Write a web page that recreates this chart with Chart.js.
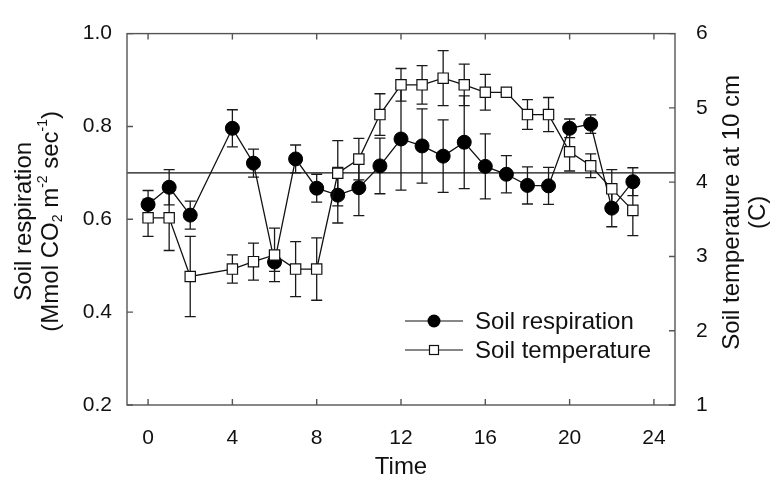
<!DOCTYPE html>
<html>
<head>
<meta charset="utf-8">
<script src="https://cdn.jsdelivr.net/npm/chart.js@4.4.1/dist/chart.umd.min.js"></script>
<style>
  html, body { margin: 0; padding: 0; background: #ffffff; }
  canvas { display: block; }
</style>
</head>
<body>
<canvas id="chart" width="770" height="482"></canvas>
<script>
// Hourly measurements (no reading at hour 3)
const hours = [0, 1, 2, 4, 5, 6, 7, 8, 9, 10, 11, 12, 13, 14, 15, 16, 17, 18, 19, 20, 21, 22, 23];
const respiration    = [0.632, 0.669, 0.609, 0.796, 0.721, 0.508, 0.730, 0.667, 0.652, 0.668, 0.715, 0.773, 0.758, 0.736, 0.766, 0.714, 0.697, 0.673, 0.672, 0.796, 0.805, 0.624, 0.681];
const respirationErr = [0.030, 0.038, 0.030, 0.040, 0.030, 0.020, 0.030, 0.030, 0.060, 0.060, 0.060, 0.110, 0.080, 0.078, 0.100, 0.070, 0.040, 0.040, 0.040, 0.020, 0.020, 0.040, 0.030];
const temperature    = [3.52, 3.52, 2.73, 2.83, 2.93, 3.02, 2.83, 2.83, 4.12, 4.31, 4.91, 5.31, 5.31, 5.40, 5.31, 5.21, 5.21, 4.91, 4.91, 4.41, 4.22, 3.91, 3.62];
const temperatureErr = [0.25, 0.44, 0.54, 0.19, 0.25, 0.36, 0.37, 0.42, 0.44, 0.28, 0.28, 0.22, 0.26, 0.37, 0.28, 0.24, 0.03, 0.20, 0.23, 0.26, 0.16, 0.26, 0.34];

const timeTicks = [0, 4, 8, 12, 16, 20, 24];
const respTicks = [0.2, 0.4, 0.6, 0.8, 1.0];
const tempTicks = [1, 2, 3, 4, 5, 6];
const referenceLevel = 0.7;

const seriesNames = ['Soil respiration', 'Soil temperature'];

const FONT = '"Liberation Sans", Arial, Helvetica, sans-serif';
const TICK_SIZE = 21;
const TITLE_SIZE = 24;
const FRAME_COLOR = '#555555';
const TICK_LEN = 6;

const respPoints = hours.map((h, i) => ({ x: h, y: respiration[i] }));
const tempPoints = hours.map((h, i) => ({ x: h, y: temperature[i] }));

// Frame, inward tick marks, reference line, error bars, titles and legend
const decorations = {
  id: 'decorations',
  beforeDatasetsDraw(chart) {
    const { ctx, chartArea: a, scales } = chart;
    const xs = scales.x, yl = scales.yResp, yr = scales.yTemp;
    ctx.save();
    // horizontal reference line
    const yRef = yl.getPixelForValue(referenceLevel);
    ctx.strokeStyle = '#111';
    ctx.lineWidth = 1.3;
    ctx.beginPath();
    ctx.moveTo(a.left, yRef);
    ctx.lineTo(a.right, yRef);
    ctx.stroke();

    // error bars
    const drawBars = (vals, errs, scale) => {
      ctx.strokeStyle = '#1a1a1a';
      ctx.lineWidth = 1.3;
      hours.forEach((h, i) => {
        const x = xs.getPixelForValue(h);
        const y1 = scale.getPixelForValue(vals[i] + errs[i]);
        const y2 = scale.getPixelForValue(vals[i] - errs[i]);
        ctx.beginPath();
        ctx.moveTo(x, y1); ctx.lineTo(x, y2);
        ctx.moveTo(x - 5.5, y1); ctx.lineTo(x + 5.5, y1);
        ctx.moveTo(x - 5.5, y2); ctx.lineTo(x + 5.5, y2);
        ctx.stroke();
      });
    };
    drawBars(respiration, respirationErr, yl);
    drawBars(temperature, temperatureErr, yr);
    ctx.restore();
  },
  afterDraw(chart) {
    const { ctx, chartArea: a, scales } = chart;
    const xs = scales.x, yl = scales.yResp, yr = scales.yTemp;
    ctx.save();
    ctx.strokeStyle = FRAME_COLOR;
    ctx.lineWidth = 1.4;
    ctx.strokeRect(a.left, a.top, a.right - a.left, a.bottom - a.top);
    ctx.beginPath();
    timeTicks.forEach(v => {
      const x = xs.getPixelForValue(v);
      ctx.moveTo(x, a.bottom); ctx.lineTo(x, a.bottom - TICK_LEN);
      ctx.moveTo(x, a.top); ctx.lineTo(x, a.top + TICK_LEN);
    });
    respTicks.forEach(v => {
      const y = yl.getPixelForValue(v);
      ctx.moveTo(a.left, y); ctx.lineTo(a.left + TICK_LEN, y);
    });
    tempTicks.forEach(v => {
      const y = yr.getPixelForValue(v);
      ctx.moveTo(a.right, y); ctx.lineTo(a.right - TICK_LEN, y);
    });
    ctx.stroke();

    // y-axis titles (rotated, reading upward)
    ctx.fillStyle = '#111';
    ctx.textBaseline = 'middle';
    const midY = (a.top + a.bottom) / 2 + 2;
    const small = Math.round(TITLE_SIZE * 0.6);

    // left title
    ctx.save();
    ctx.translate(24, midY);
    ctx.rotate(-Math.PI / 2);
    ctx.font = `${TITLE_SIZE}px ${FONT}`;
    ctx.textAlign = 'center';
    ctx.fillText('Soil respiration', 0, 0);
    // second line with subscript / superscripts
    const parts = [
      { t: '(Mmol CO', k: 'n' }, { t: '2', k: 'sub' }, { t: ' m', k: 'n' },
      { t: '-2', k: 'sup' }, { t: ' sec', k: 'n' }, { t: '-1', k: 'sup' }, { t: ')', k: 'n' }
    ];
    const widthOf = p => {
      ctx.font = (p.k === 'n' ? TITLE_SIZE : small) + 'px ' + FONT;
      return ctx.measureText(p.t).width;
    };
    const total = parts.reduce((s, p) => s + widthOf(p), 0);
    let cx = -total / 2;
    ctx.textAlign = 'left';
    parts.forEach(p => {
      const w = widthOf(p);
      const dy = p.k === 'sub' ? 7 : p.k === 'sup' ? -8 : 0;
      ctx.fillText(p.t, cx, 27 + dy);
      cx += w;
    });
    ctx.restore();

    // right title
    ctx.save();
    ctx.translate(732, midY - 9);
    ctx.rotate(-Math.PI / 2);
    ctx.font = `${TITLE_SIZE}px ${FONT}`;
    ctx.textAlign = 'center';
    ctx.fillText('Soil temperature at 10 cm', 0, 0);
    ctx.fillText('(C)', 0, 26);
    ctx.restore();

    // legend
    const rows = [
      { y: 321, name: seriesNames[0], style: 'circle' },
      { y: 350, name: seriesNames[1], style: 'square' }
    ];
    rows.forEach(r => {
      ctx.strokeStyle = '#111';
      ctx.lineWidth = 1.2;
      ctx.beginPath();
      ctx.moveTo(405, r.y); ctx.lineTo(463, r.y);
      ctx.stroke();
      if (r.style === 'circle') {
        ctx.fillStyle = '#000';
        ctx.beginPath();
        ctx.arc(434, r.y, 6.5, 0, Math.PI * 2);
        ctx.fill();
      } else {
        ctx.fillStyle = '#fff';
        ctx.fillRect(429.5, r.y - 4.5, 9, 9);
        ctx.strokeRect(429.5, r.y - 4.5, 9, 9);
      }
      ctx.fillStyle = '#111';
      ctx.font = `${TITLE_SIZE}px ${FONT}`;
      ctx.textAlign = 'left';
      ctx.textBaseline = 'middle';
      ctx.fillText(r.name, 475, r.y + 1);
    });
    ctx.restore();
  }
};

new Chart(document.getElementById('chart'), {
  type: 'line',
  data: {
    datasets: [
      {
        label: seriesNames[0],
        data: respPoints,
        yAxisID: 'yResp',
        borderColor: '#111',
        borderWidth: 1.3,
        pointStyle: 'circle',
        pointRadius: 7,
        pointBackgroundColor: '#000',
        pointBorderColor: '#000',
        pointBorderWidth: 1,
        tension: 0,
        order: 1
      },
      {
        label: seriesNames[1],
        data: tempPoints,
        yAxisID: 'yTemp',
        borderColor: '#111',
        borderWidth: 1.3,
        pointStyle: 'rect',
        pointRadius: 7.3,
        pointBackgroundColor: '#fff',
        pointBorderColor: '#111',
        pointBorderWidth: 1.2,
        tension: 0,
        order: 0
      }
    ]
  },
  options: {
    responsive: false,
    animation: false,
    events: [],
    layout: { padding: { top: 20, left: 0, right: 0, bottom: 0 } },
    plugins: { legend: { display: false }, tooltip: { enabled: false } },
    scales: {
      x: {
        type: 'linear',
        min: -1,
        max: 25,
        grid: { display: false, drawTicks: false },
        border: { display: false },
        afterBuildTicks: s => { s.ticks = timeTicks.map(v => ({ value: v })); },
        afterFit: s => { s.height = 77; },
        ticks: { color: '#111', font: { family: FONT, size: TICK_SIZE }, padding: 21, maxRotation: 0 },
        title: { display: true, text: 'Time', color: '#111', font: { family: FONT, size: TITLE_SIZE }, padding: { top: 2, bottom: 0 } }
      },
      yResp: {
        type: 'linear',
        position: 'left',
        min: 0.2,
        max: 1.0,
        grid: { display: false, drawTicks: false },
        border: { display: false },
        afterBuildTicks: s => { s.ticks = respTicks.map(v => ({ value: v })); },
        afterFit: s => { s.width = 127; },
        ticks: { color: '#111', font: { family: FONT, size: TICK_SIZE }, padding: 15, callback: v => v.toFixed(1) }
      },
      yTemp: {
        type: 'linear',
        position: 'right',
        min: 1,
        max: 6,
        grid: { display: false, drawTicks: false },
        border: { display: false },
        afterBuildTicks: s => { s.ticks = tempTicks.map(v => ({ value: v })); },
        afterFit: s => { s.width = 95; },
        ticks: { color: '#111', font: { family: FONT, size: TICK_SIZE }, padding: 21, callback: v => String(v) }
      }
    }
  },
  plugins: [decorations]
});
</script>
</body>
</html>
